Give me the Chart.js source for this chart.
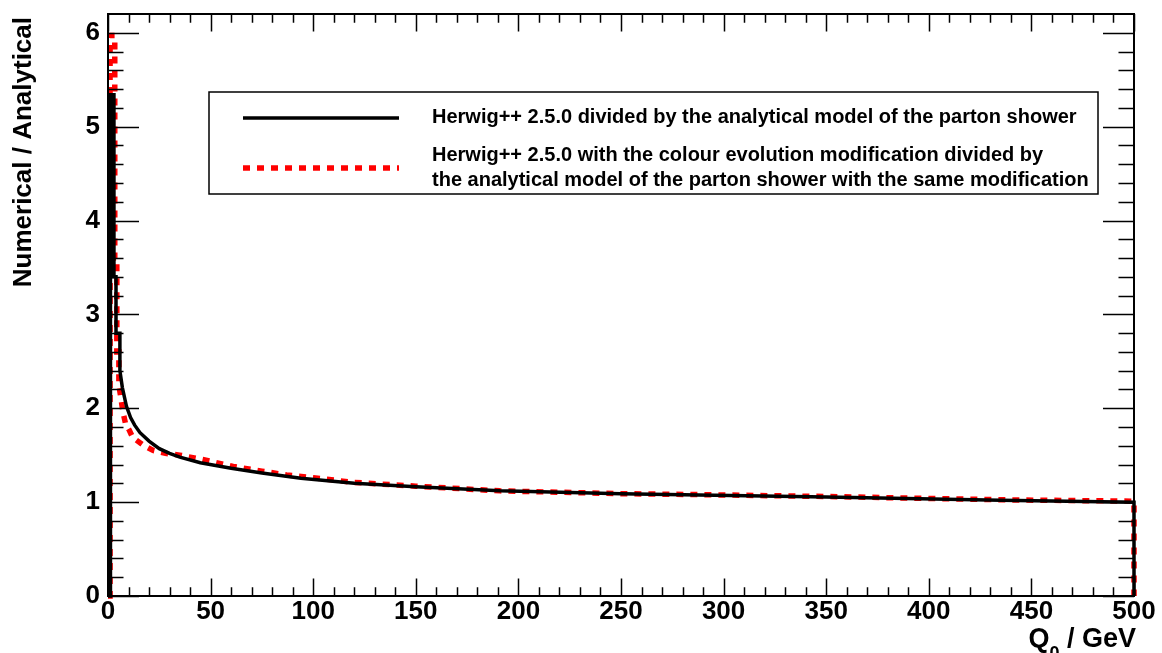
<!DOCTYPE html>
<html>
<head>
<meta charset="utf-8">
<script src="https://cdn.jsdelivr.net/npm/chart.js@4.4.1/dist/chart.umd.min.js"></script>
<style>
  html, body { margin: 0; padding: 0; background: #fff; }
  #wrap { width: 1162px; height: 653px; position: relative; }
</style>
</head>
<body>
<div id="wrap"><canvas id="c" width="1162" height="653"></canvas></div>
<script>
// ---- data ----
const qBlack = [0, 1.2, 1.2, 2.9, 2.9, 3.9, 3.9, 5.8, 5.8, 7, 9, 11, 13, 15.6, 20, 25, 30, 35, 45, 60, 75, 94, 120, 150, 191, 250, 288, 350, 435, 500, 500];
const rBlack = [0, 0, 5.34, 5.34, 3.4, 3.4, 2.8, 2.8, 2.4, 2.22, 2.02, 1.9, 1.82, 1.74, 1.65, 1.57, 1.52, 1.48, 1.42, 1.36, 1.31, 1.255, 1.2, 1.165, 1.12, 1.09, 1.075, 1.055, 1.02, 1.0, 0];

const qRed = [0, 1.0, 1.0, 3.3, 3.3, 4.3, 4.3, 5.3, 5.3, 7.3, 8.5, 10.5, 12, 17, 22, 28, 35, 45, 61, 75, 87, 100, 120, 150, 191, 250, 288, 350, 435, 500, 500];
const rRed = [0, 0, 5.97, 5.97, 3.6, 3.6, 2.6, 2.6, 2.25, 1.96, 1.84, 1.76, 1.69, 1.61, 1.55, 1.52, 1.5, 1.46, 1.38, 1.33, 1.29, 1.26, 1.21, 1.17, 1.12, 1.09, 1.08, 1.06, 1.025, 1.01, 0];

const legendLabels = [
  ["Herwig++ 2.5.0 divided by the analytical model of the parton shower"],
  ["Herwig++ 2.5.0 with the colour evolution modification divided by",
   "the analytical model of the parton shower with the same modification"]
];
const xTitleMain = "Q";
const xTitleSub = "0";
const xTitleRest = " / GeV";
const yTitle = "Numerical / Analytical";
const xMin = 0, xMax = 500, xStep = 50;
const yMin = 0, yMax = 6.2, yStep = 1;
const minorDiv = 5;

const FONT = '"Liberation Sans", Arial, Helvetica, sans-serif';

function toPoints(xs, ys) { return xs.map((x, i) => ({ x: x, y: ys[i] })); }

const rootPlugin = {
  id: 'rootStyle',
  afterDraw(chart) {
    const ctx = chart.ctx;
    const ca = chart.chartArea;
    const xs = chart.scales.x, ys = chart.scales.y;
    ctx.save();
    // frame
    ctx.strokeStyle = '#000';
    ctx.lineWidth = 2;
    ctx.strokeRect(ca.left, ca.top, ca.right - ca.left, ca.bottom - ca.top);

    // ticks
    ctx.lineWidth = 1.5;
    const xMaj = 17.5, xMin_ = 8.75, yMaj = 31, yMin_ = 15.5;
    function minorVals(scale, step) {
      const major = scale.ticks.map(t => t.value);
      const out = [];
      const sub = step / minorDiv;
      for (let i = 0; i < major.length; i++) {
        for (let k = 1; k < minorDiv; k++) {
          const v = major[i] + k * sub;
          if (v < scale.max - 1e-9) out.push(v);
        }
      }
      return out;
    }
    ctx.beginPath();
    xs.ticks.forEach(t => {
      const px = Math.round(xs.getPixelForValue(t.value)) + 0.5;
      ctx.moveTo(px, ca.bottom); ctx.lineTo(px, ca.bottom - xMaj);
      ctx.moveTo(px, ca.top); ctx.lineTo(px, ca.top + xMaj);
    });
    minorVals(xs, xStep).forEach(v => {
      const px = Math.round(xs.getPixelForValue(v)) + 0.5;
      ctx.moveTo(px, ca.bottom); ctx.lineTo(px, ca.bottom - xMin_);
      ctx.moveTo(px, ca.top); ctx.lineTo(px, ca.top + xMin_);
    });
    ys.ticks.forEach(t => {
      const py = Math.round(ys.getPixelForValue(t.value)) + 0.5;
      ctx.moveTo(ca.left, py); ctx.lineTo(ca.left + yMaj, py);
      ctx.moveTo(ca.right, py); ctx.lineTo(ca.right - yMaj, py);
    });
    minorVals(ys, yStep).forEach(v => {
      const py = Math.round(ys.getPixelForValue(v)) + 0.5;
      ctx.moveTo(ca.left, py); ctx.lineTo(ca.left + yMin_, py);
      ctx.moveTo(ca.right, py); ctx.lineTo(ca.right - yMin_, py);
    });
    ctx.stroke();

    // y title
    ctx.fillStyle = '#000';
    ctx.save();
    ctx.translate(31, ca.top + 3);
    ctx.rotate(-Math.PI / 2);
    ctx.font = 'bold 26px ' + FONT;
    ctx.textAlign = 'right';
    ctx.textBaseline = 'alphabetic';
    ctx.fillText(yTitle, 0, 0);
    ctx.restore();

    // x title with subscript
    const fMain = 'bold 27px ' + FONT, fSub = 'bold 18px ' + FONT;
    ctx.font = fMain; const wQ = ctx.measureText(xTitleMain).width; const wR = ctx.measureText(xTitleRest).width;
    ctx.font = fSub; const wS = ctx.measureText(xTitleSub).width;
    let x0 = ca.right + 2 - (wQ + wS + wR);
    const base = 647;
    ctx.textAlign = 'left'; ctx.textBaseline = 'alphabetic';
    ctx.font = fMain; ctx.fillText(xTitleMain, x0, base);
    ctx.font = fSub; ctx.fillText(xTitleSub, x0 + wQ, base + 12);
    ctx.font = fMain; ctx.fillText(xTitleRest, x0 + wQ + wS, base);

    // legend box
    const lx = 209, ly = 92, lw = 889, lh = 102;
    ctx.fillStyle = '#fff';
    ctx.fillRect(lx, ly, lw, lh);
    ctx.strokeStyle = '#000'; ctx.lineWidth = 1.5;
    ctx.strokeRect(lx, ly, lw, lh);
    const rows = [118, 168];
    const textRows = [[117], [155, 180]];
    chart.data.datasets.forEach((ds, i) => {
      ctx.save();
      ctx.strokeStyle = ds.borderColor;
      ctx.lineWidth = ds.borderWidth;
      ctx.setLineDash(ds.borderDash || []);
      ctx.beginPath();
      ctx.moveTo(243, rows[i]); ctx.lineTo(399, rows[i]);
      ctx.stroke();
      ctx.restore();
      ctx.fillStyle = '#000';
      ctx.font = 'bold 20px ' + FONT;
      ctx.textAlign = 'left'; ctx.textBaseline = 'middle';
      legendLabels[i].forEach((s, k) => ctx.fillText(s, 432, textRows[i][k]));
    });
    ctx.restore();
  }
};

new Chart(document.getElementById('c'), {
  type: 'line',
  data: {
    datasets: [
      {
        label: legendLabels[0].join(' '),
        data: toPoints(qBlack, rBlack),
        borderColor: '#000000',
        borderWidth: 3.5,
        borderJoinStyle: 'miter',
        pointRadius: 0,
        tension: 0,
        fill: false,
        clip: false,
        order: 0
      },
      {
        label: legendLabels[1].join(' '),
        data: toPoints(qRed, rRed),
        borderColor: '#ff0000',
        borderWidth: 5.5,
        borderDash: [7, 7],
        pointRadius: 0,
        tension: 0,
        fill: false,
        clip: false,
        order: 1
      }
    ]
  },
  options: {
    responsive: false,
    animation: false,
    events: [],
    layout: { padding: { left: 0, right: 28, top: 14, bottom: 0 } },
    plugins: { legend: { display: false }, tooltip: { enabled: false }, title: { display: false } },
    scales: {
      x: {
        type: 'linear', min: xMin, max: xMax,
        grid: { display: false, drawTicks: false },
        border: { display: false },
        ticks: { stepSize: xStep, autoSkip: false, maxRotation: 0, padding: 0, color: '#000',
                 font: { family: FONT, size: 26, weight: 'bold' } },
        afterFit(s) { s.height = 57; s.paddingLeft = 0; s.paddingRight = 0; }
      },
      y: {
        type: 'linear', min: yMin, max: yMax,
        grid: { display: false, drawTicks: false },
        border: { display: false },
        ticks: { stepSize: yStep, includeBounds: false, autoSkip: false, padding: 8, color: '#000',
                 font: { family: FONT, size: 26, weight: 'bold' } },
        afterFit(s) { s.width = 108; s.paddingTop = 0; s.paddingBottom = 0; }
      }
    }
  },
  plugins: [rootPlugin]
});
</script>
</body>
</html>
